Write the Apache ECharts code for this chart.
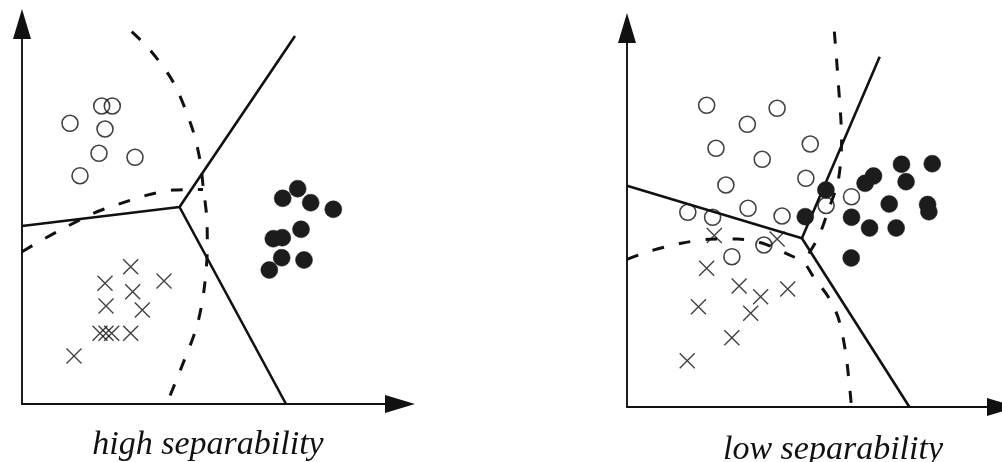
<!DOCTYPE html>
<html>
<head>
<meta charset="utf-8">
<script src="https://cdn.jsdelivr.net/npm/echarts@6/dist/echarts.min.js"></script>
<style>
html,body{margin:0;padding:0;background:#fff;}
#chart{width:1002px;height:462px;}
</style>
</head>
<body>
<div id="chart"></div>
<script>
// ---- Panel titles ----
const titles = ['high separability', 'low separability'];

// ---- Left panel (high separability) : values in plot units ----
const leftOpen = [[48,280.7],[79.7,298],[90.3,298],[83,275],[77,250.7],[113,246.7],[58,228.3]];
const leftFilled = [[260.7,205.7],[275.7,215.3],[288.7,201.3],[311.3,194.7],[279,174.7],[251.3,165.3],[260.3,166.3],[259.7,146.3],[282,144],[247.3,134]];
const leftCross = [[108.7,137.3],[83,120.7],[110.7,112.3],[142,123],[84,98],[120.3,94],[78,70.7],[84,70.7],[89.7,70.7],[108.7,70.7],[52,48]];
const leftSolidA = [[0,178],[157.5,197],[273,368]];
const leftSolidB = [[157.5,197],[264,0]];
const leftDashArc = [[109.7,372.3],[128,354],[151,322.3],[169.7,277.3],[178,244],[181.3,216],[184.7,187.3],[185.3,157.3],[182,114],[174.7,77.3],[159.7,37.3],[144.7,0]];
const leftDashEdge = [[0,152.3],[21.3,164.7],[44.7,177.3],[71.3,190.7],[96.3,199.7],[123,208.3],[151.3,214],[181,214.5]];

// ---- Right panel (low separability) ----
const rightOpen = [[80.3,301.7],[151.3,298.7],[121.3,282.7],[89.7,258.7],[184.7,263],[136.3,247.7],[180.3,228.7],[99.7,222],[122,198.7],[61.3,194.7],[86.3,189.7],[156.3,191],[226.3,210.3],[200.7,201.5],[138,162],[105.7,150.3]];
const rightFilled = [[179.7,190.3],[200.5,217],[240,223.7],[248.5,231],[276.7,242.7],[307.7,243.3],[281.3,225.3],[264.3,203],[303,202.5],[304.3,195.3],[226.3,189.7],[244.5,179],[271.3,179],[226,149]];
const rightCross = [[88,171.5],[151.3,168],[80.3,138.7],[113,121],[134.7,110.3],[162,118],[72,100.3],[124.7,93.7],[105.7,69.3],[60.7,46.3]];
const rightSolidA = [[0,221.3],[176.3,168.7],[254.7,350.3]];
const rightSolidB = [[176.3,168.7],[284.7,0]];
const rightDashA = [[209,375.3],[213,324],[216.3,267],[213,227],[203,197],[193,170],[181,150]];
const rightDashB = [[0,147.7],[24.7,156.3],[54.7,163.7],[83,167.7],[111.3,168],[136,164],[166,151],[178,145],[188,130],[203,110],[213,89],[220,57],[224,24],[226.3,0]];

const axisMax = { left: [378, 380], right: [378, 379] };

const INK = '#111';
const FILL = '#1c1c1c';
const crossPath = 'path://M0,0L10,10M0,10L10,0';

function axes(idx, maxX, maxY) {
  const line = { show: true, onZero: false, lineStyle: { color: INK, width: 1.9 }, symbol: ['none', 'triangle'], symbolSize: [18, 30] };
  return {
    x: { type: 'value', gridIndex: idx, min: 0, max: maxX, axisLine: line, axisTick: { show: false }, axisLabel: { show: false }, splitLine: { show: false } },
    y: { type: 'value', gridIndex: idx, min: 0, max: maxY, axisLine: line, axisTick: { show: false }, axisLabel: { show: false }, splitLine: { show: false } }
  };
}
const aL = axes(0, axisMax.left[0], axisMax.left[1]);
const aR = axes(1, axisMax.right[0], axisMax.right[1]);

function lineSeries(i, data, dashed, smooth) {
  return {
    type: 'line', xAxisIndex: i, yAxisIndex: i, data: data, showSymbol: false, symbol: 'none',
    smooth: smooth || false, silent: true, z: 2,
    lineStyle: { color: INK, width: dashed ? 3 : 2.6, type: dashed ? [12, 15] : 'solid', cap: 'butt' }
  };
}
function openSeries(i, data) {
  return { type: 'scatter', xAxisIndex: i, yAxisIndex: i, data: data, symbol: 'circle', symbolSize: 16, z: 3,
    itemStyle: { color: 'rgba(0,0,0,0)', borderColor: INK, borderWidth: 1.6 } };
}
function filledSeries(i, data) {
  return { type: 'scatter', xAxisIndex: i, yAxisIndex: i, data: data, symbol: 'circle', symbolSize: 17, z: 3,
    itemStyle: { color: FILL, borderColor: FILL, borderWidth: 0.5, opacity: 1 } };
}
function crossSeries(i, data) {
  return { type: 'scatter', xAxisIndex: i, yAxisIndex: i, data: data, symbol: crossPath, symbolSize: 15, symbolKeepAspect: true, z: 3,
    itemStyle: { color: 'rgba(0,0,0,0)', borderColor: INK, borderWidth: 1.4 } };
}

const chart = echarts.init(document.getElementById('chart'), null, { renderer: 'canvas' });
chart.setOption({
  animation: false,
  backgroundColor: '#fff',
  grid: [
    { left: 22, top: 24, width: 378, height: 380 },
    { left: 627, top: 28, width: 378, height: 379 }
  ],
  xAxis: [aL.x, aR.x],
  yAxis: [aL.y, aR.y],
  graphic: [
    { type: 'text', x: 208, y: 445.5, silent: true,
      style: { text: titles[0], font: 'italic 34px "Liberation Serif", "DejaVu Serif", serif', fill: INK, align: 'center', verticalAlign: 'middle' } },
    { type: 'text', x: 833, y: 450.5, silent: true,
      style: { text: titles[1], font: 'italic 34px "Liberation Serif", "DejaVu Serif", serif', fill: INK, align: 'center', verticalAlign: 'middle' } }
  ],
  series: [
    lineSeries(0, leftSolidA, false),
    lineSeries(0, leftSolidB, false),
    lineSeries(0, leftDashArc, true, 0.3),
    lineSeries(0, leftDashEdge, true, 0.3),
    openSeries(0, leftOpen),
    filledSeries(0, leftFilled),
    crossSeries(0, leftCross),
    lineSeries(1, rightSolidA, false),
    lineSeries(1, rightSolidB, false),
    lineSeries(1, rightDashA, true, 0.3),
    lineSeries(1, rightDashB, true, 0.3),
    openSeries(1, rightOpen),
    filledSeries(1, rightFilled),
    crossSeries(1, rightCross)
  ]
});
</script>
</body>
</html>
